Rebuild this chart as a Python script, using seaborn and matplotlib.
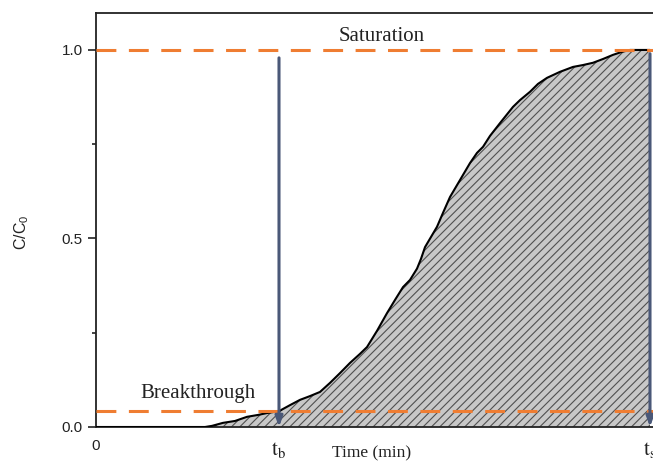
import numpy as np
import pandas as pd
import matplotlib
matplotlib.use("Agg")
import matplotlib.pyplot as plt
import seaborn as sns

# Data (time in arbitrary minutes, C/C0)
time_min = [0, 109, 116, 127, 139, 151, 162, 171, 183, 194, 204, 214, 224, 234,
            244, 254, 264, 271, 281, 291, 299, 307, 314, 321, 325, 329, 335, 341,
            347, 354, 364, 374, 381, 387, 394, 404, 417, 424, 434, 442, 451, 464,
            477, 487, 497, 507, 517, 526, 534, 554]
c_over_c0 = [0.0, 0.0, 0.003, 0.011, 0.016, 0.027, 0.032, 0.037, 0.042, 0.058,
             0.072, 0.082, 0.093, 0.117, 0.143, 0.170, 0.194, 0.212, 0.255, 0.302,
             0.337, 0.371, 0.390, 0.420, 0.446, 0.477, 0.504, 0.531, 0.568, 0.610,
             0.655, 0.700, 0.727, 0.743, 0.772, 0.806, 0.849, 0.867, 0.889, 0.910,
             0.926, 0.942, 0.955, 0.960, 0.966, 0.976, 0.987, 0.995, 1.0, 1.0]
t_b = 183
t_s = 554
saturation_level = 1.0
breakthrough_level = 0.042
y_ticks = [0.0, 0.5, 1.0]
y_tick_labels = ["0.0", "0.5", "1.0"]
x_ticks = [0, t_b, t_s]
x_tick_labels = ["0", r"$\mathrm{t_b}$", r"$\mathrm{t_s}$"]

df = pd.DataFrame({"time": time_min, "c": c_over_c0})

sns.set_style("ticks")
plt.rcParams["mathtext.fontset"] = "stix"
plt.rcParams["hatch.linewidth"] = 0.8

fig = plt.figure(figsize=(6.53, 4.63), dpi=100)
ax = fig.add_axes([96 / 653, 36 / 463, 580 / 653, 414 / 463])

orange = "#ef7d32"
arrow_col = "#4a5878"

# filled, hatched area under curve up to t_s
ax.fill_between(df["time"], df["c"], 0, facecolor="#c8c8c8", edgecolor="#505050",
                hatch="////", linewidth=0, zorder=1)

sns.lineplot(data=df, x="time", y="c", color="black", linewidth=1.5, ax=ax, zorder=3)

# saturation / breakthrough lines
for lvl in (saturation_level, breakthrough_level):
    ax.axhline(lvl, color=orange, linewidth=2.2, dashes=(6.5, 4.1), zorder=4)

# arrows
for xt, top in ((t_b, 0.979), (t_s, 0.99)):
    ax.annotate("", xy=(xt, 0.0), xytext=(xt, top),
                arrowprops=dict(arrowstyle="-|>,head_length=0.6,head_width=0.22",
                                color=arrow_col, lw=2.2, shrinkA=0, shrinkB=0),
                zorder=5)

ax.text(286, 1.037, "Saturation", family="Liberation Serif", fontsize=15,
        ha="center", va="center", color="#222222")
ax.text(102, 0.09, "Breakthrough", family="Liberation Serif", fontsize=15,
        ha="center", va="center", color="#222222")

ax.set_xlim(0, 580)
ax.set_ylim(0, 1.098)

ax.set_yticks(y_ticks)
ax.set_yticklabels(y_tick_labels, family="Liberation Sans", fontsize=11, color="#222222")
ax.set_yticks([0.25, 0.75], minor=True)
ax.tick_params(axis="y", which="major", length=6, width=1.2, direction="out", color="#222222")
ax.tick_params(axis="y", which="minor", length=3, width=1.2, direction="out", color="#222222")

ax.set_xticks(x_ticks)
ax.set_xticklabels(x_tick_labels, fontsize=15)
ax.get_xticklabels()[0].set_fontfamily("Liberation Sans")
ax.get_xticklabels()[0].set_fontsize(11)
ax.tick_params(axis="x", length=0, pad=9, colors="#222222")

ax.set_xlabel("Time (min)", family="Liberation Serif", fontsize=12.5, color="#222222")
ax.xaxis.set_label_coords(276 / 580, -0.045)
ax.set_ylabel(r"$\mathregular{C/C_0}$", family="Liberation Sans", fontsize=11.5, color="#222222")
ax.yaxis.set_label_coords(-0.112, 0.47)

for s in ax.spines.values():
    s.set_linewidth(1.3)
    s.set_color("#222222")
    s.set_visible(True)

fig.savefig("out.png", dpi=100)
